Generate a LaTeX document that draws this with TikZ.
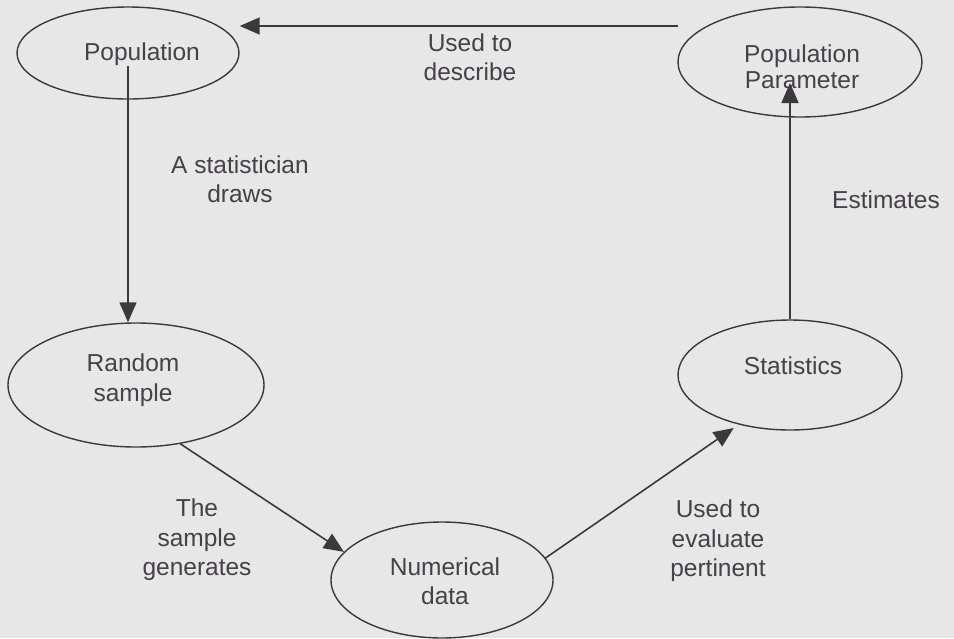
\documentclass[tikz,border=0pt]{standalone}
\usepackage{fontspec}
\setmainfont{Liberation Sans}
\usetikzlibrary{shapes.geometric,arrows.meta}
\definecolor{bg}{RGB}{232,231,231}
\definecolor{ink}{RGB}{70,64,72}
\definecolor{edgec}{RGB}{60,56,60}
\begin{document}
\begin{tikzpicture}[x=1pt,y=-1pt,
  oval/.style={draw=edgec,line width=1.4pt,ellipse,inner sep=0pt},
  txt/.style={text=ink,font=\fontsize{24.5}{29.5}\selectfont,align=center,inner sep=0pt},
  conn/.style={draw=edgec,line width=1.6pt,-{Triangle[length=20pt,width=17pt]}}]
\fill[bg] (0,0) rectangle (954,638);
\useasboundingbox (0,0) rectangle (954,638);
% ellipses
\node[oval,minimum width=222pt,minimum height=92pt] (pop) at (128,53) {};
\node[oval,minimum width=244pt,minimum height=110pt] (par) at (800,62) {};
\node[oval,minimum width=256pt,minimum height=124pt] (rnd) at (136,385) {};
\node[oval,minimum width=224pt,minimum height=110pt] (stat) at (790,375) {};
\node[oval,minimum width=222pt,minimum height=116pt] (num) at (442,580) {};
% texts in ellipses
\node[txt] (popt) at (142,54) {Population};
\node[txt,font=\fontsize{24.5}{26}\selectfont] (part) at (802,67) {Population\\Parameter};
\node[txt] (rndt) at (133,380) {Random\\sample};
\node[txt] (statt) at (793,366) {Statistics};
\node[txt] (numt) at (445,581) {Numerical\\data};
% connector labels
\node[txt] (l1) at (470,57) {Used to\\describe};
\node[txt] (l2) at (240,179) {A statistician\\draws};
\node[txt] (l3) at (886,200) {Estimates};
\node[txt] (l4) at (197,540) {The\\sample\\generates};
\node[txt] (l5) at (718,541) {Used to\\evaluate\\pertinent};
% connectors
\coordinate (topstart) at (678,26);
\coordinate (popin) at (128,66);
\coordinate (partip) at (790,83);
\draw[conn] (topstart) -- (topstart -| pop.east);
\draw[conn] (popin) -- (popin |- rnd.north);
\draw[conn] (stat.north) -- (partip);
\draw[conn] (rnd.307) -- (num.164);
\draw[conn,shorten >=6pt] (num.12) -- (stat.224);
\end{tikzpicture}
\end{document}
